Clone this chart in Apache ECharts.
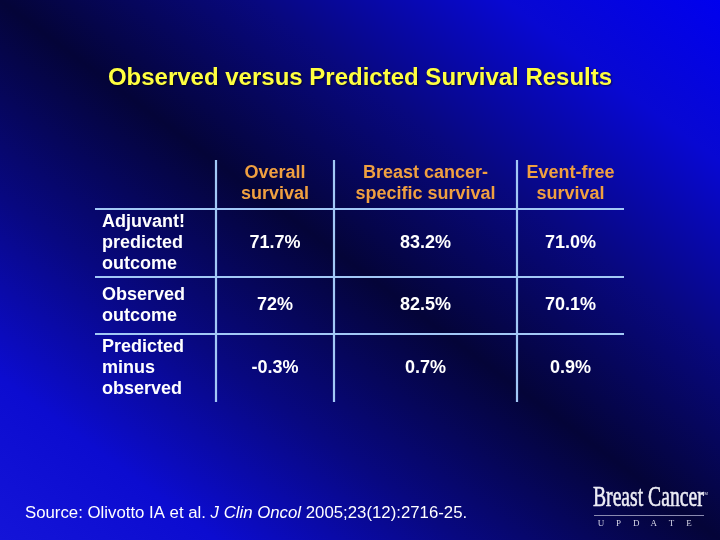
<!DOCTYPE html>
<html><head><meta charset="utf-8">
<script src="https://cdn.jsdelivr.net/npm/echarts@6/dist/echarts.min.js"></script>
<style>html,body{margin:0;padding:0;background:#000;}#c{width:720px;height:540px;}</style>
</head><body><div id="c"></div>
<script>
// ---- data ----
var titleText = 'Observed versus Predicted Survival Results';
var columnLabels = ['Overall\nsurvival', 'Breast cancer-\nspecific survival', 'Event-free\nsurvival'];
var rowLabels = ['Adjuvant!\npredicted\noutcome', 'Observed\noutcome', 'Predicted\nminus\nobserved'];
var predictedOutcome = ['71.7%', '83.2%', '71.0%'];
var observedOutcome = ['72%', '82.5%', '70.1%'];
var predictedMinusObserved = ['-0.3%', '0.7%', '0.9%'];
var sourceNote = ['Source: Olivotto IA et al. ', 'J Clin Oncol', ' 2005;23(12):2716-25.'];

// ---- layout (table geometry in axis units) ----
var colEdges = [0, 121, 239, 422, 529];
var rowEdges = [0, 49, 117, 174, 242];

var rowValues = [predictedOutcome, observedOutcome, predictedMinusObserved];
var table = [[''].concat(columnLabels)];
for (var i = 0; i < rowLabels.length; i++) table.push([rowLabels[i]].concat(rowValues[i]));

var cellData = [];
for (var r = 0; r < table.length; r++)
  for (var c = 0; c < table[r].length; c++)
    if (table[r][c] !== '') cellData.push([c, r]);

var lineData = [];
for (var k = 1; k < colEdges.length - 1; k++) lineData.push([0, k]);
for (var k2 = 1; k2 < rowEdges.length - 1; k2++) lineData.push([1, k2]);

var FONT = '"Liberation Sans", Arial, sans-serif';
var SERIF = '"Liberation Serif", "DejaVu Serif", serif';

var chart = echarts.init(document.getElementById('c'), null, {renderer: 'canvas'});

var logoLetters = 'UPDATE'.split('');
var logoChildren = [
  {type: 'text', x: 593, y: 513, scaleX: 0.655, scaleY: 1,
    style: {text: 'Breast Cancer', fontFamily: SERIF, fontSize: 30, fill: '#ececf4',
      stroke: '#ececf4', lineWidth: 0.6, verticalAlign: 'bottom', align: 'left'}},
  {type: 'text', x: 702, y: 492, style: {text: 'TM', fontSize: 4, fill: '#e6e6f0', fontFamily: FONT}},
  {type: 'line', shape: {x1: 594, y1: 515.5, x2: 704, y2: 515.5}, style: {stroke: '#8a8ab0', lineWidth: 1}}
];
logoLetters.forEach(function (ch, idx) {
  logoChildren.push({type: 'text', x: 601 + idx * 17.6, y: 524, style: {text: ch, fontFamily: SERIF, fontSize: 9, fill: '#d8d8e8', align: 'center', verticalAlign: 'middle'}});
});

var option = {
  animation: false,
  title: {
    text: titleText, left: 'center', top: 61,
    textStyle: {color: '#ffff40', fontSize: 24, fontWeight: 'bold', fontFamily: FONT,
      textShadowColor: 'rgba(0,0,0,0.6)', textShadowBlur: 2, textShadowOffsetX: 1, textShadowOffsetY: 1}
  },
  graphic: [
    {type: 'rect', z: -10, silent: true, shape: {x: 0, y: 0, width: 720, height: 540},
      style: {fill: {type: 'linear', x: 619, y: -76, x2: 101, y2: 616, global: true,
        colorStops: [
          {offset: 0, color: '#0000ee'},
          {offset: 0.15, color: '#0808d2'},
          {offset: 0.32, color: '#080880'},
          {offset: 0.5, color: '#040438'},
          {offset: 0.68, color: '#080880'},
          {offset: 0.85, color: '#0c0cd0'},
          {offset: 1, color: '#1414d8'}
        ]}}},
    {type: 'text', x: 25, y: 513,
      style: {text: '{n|' + sourceNote[0] + '}{i|' + sourceNote[1] + '}{n|' + sourceNote[2] + '}',
        verticalAlign: 'middle', align: 'left',
        rich: {n: {fontFamily: FONT, fontSize: 16.8, fill: '#ffffff', color: '#ffffff'},
               i: {fontFamily: FONT, fontSize: 16.8, fontStyle: 'italic', fill: '#ffffff', color: '#ffffff'}}}},
    {type: 'group', children: logoChildren}
  ],
  grid: {left: 95, top: 160, width: 529, height: 242, show: false},
  xAxis: {type: 'value', min: colEdges[0], max: colEdges[colEdges.length - 1], show: false},
  yAxis: {type: 'value', min: rowEdges[0], max: rowEdges[rowEdges.length - 1], inverse: true, show: false},
  series: [
    {
      type: 'custom', data: lineData, clip: false, silent: true, z: 2,
      renderItem: function (params, api) {
        var d = lineData[params.dataIndex];
        var a, b;
        if (d[0] === 0) {
          a = api.coord([colEdges[d[1]], rowEdges[0]]);
          b = api.coord([colEdges[d[1]], rowEdges[rowEdges.length - 1]]);
        } else {
          a = api.coord([colEdges[0], rowEdges[d[1]]]);
          b = api.coord([colEdges[colEdges.length - 1], rowEdges[d[1]]]);
        }
        return {type: 'line', shape: {x1: a[0], y1: a[1], x2: b[0], y2: b[1]},
          style: {stroke: '#a2c8f6', lineWidth: 2.2}};
      }
    },
    {
      type: 'custom', data: cellData, clip: false, silent: true, z: 3,
      renderItem: function (params, api) {
        var d = cellData[params.dataIndex];
        var c = d[0], r = d[1];
        var p0 = api.coord([colEdges[c], rowEdges[r]]);
        var p1 = api.coord([colEdges[c + 1], rowEdges[r + 1]]);
        var isLabel = c === 0;
        var isHeader = r === 0;
        return {type: 'text',
          x: isLabel ? p0[0] + 7 : (p0[0] + p1[0]) / 2,
          y: (p0[1] + p1[1]) / 2 + (isHeader ? -1 : 0),
          style: {text: table[r][c], fontFamily: FONT, fontWeight: 'bold', fontSize: 18,
            lineHeight: 21, fill: isHeader ? '#f0a040' : '#ffffff',
            align: isLabel ? 'left' : 'center', verticalAlign: 'middle'}};
      }
    }
  ]
};
chart.setOption(option);
</script></body></html>
